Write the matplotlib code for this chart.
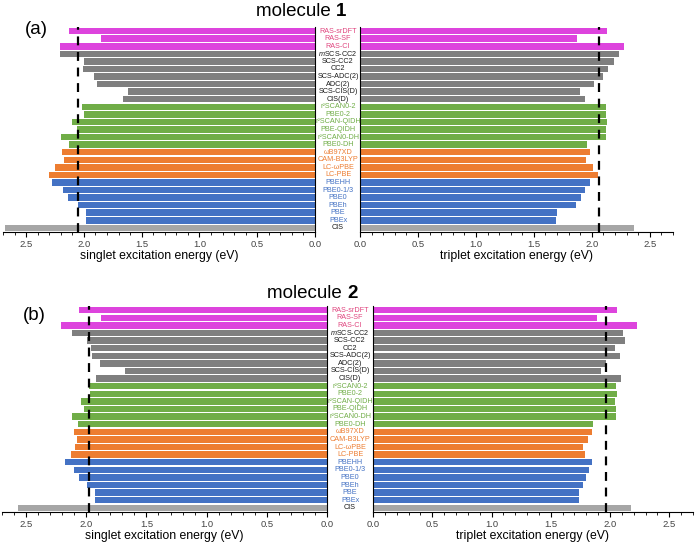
import numpy as np
import matplotlib.pyplot as plt
from matplotlib.ticker import MultipleLocator
from matplotlib.transforms import blended_transform_factory

plt.rcParams['font.family'] = ['Liberation Sans', 'DejaVu Sans']
plt.rcParams['mathtext.fontset'] = 'custom'
plt.rcParams['mathtext.it'] = 'Liberation Sans:italic'
plt.rcParams['mathtext.rm'] = 'Liberation Sans'

# Data (top to bottom)
methods = ['RAS-srDFT', 'RAS-SF', 'RAS-CI', r'$\it{m}$SCS-CC2', 'SCS-CC2', 'CC2',
           'SCS-ADC(2)', 'ADC(2)', 'SCS-CIS(D)', 'CIS(D)',
           'r²SCAN0-2', 'PBE0-2', 'r²SCAN-QIDH', 'PBE-QIDH', 'r²SCAN0-DH', 'PBE0-DH',
           'ωB97XD', 'CAM-B3LYP', 'LC-ωPBE', 'LC-PBE',
           'PBEHH', 'PBE0-1/3', 'PBE0', 'PBEh', 'PBE', 'PBEx', 'CIS']
groups = ['ras'] * 3 + ['wf'] * 7 + ['dh'] * 6 + ['rsh'] * 4 + ['hyb'] * 6 + ['cis']

singlet_1 = [2.13, 1.85, 2.21, 2.21, 2.00, 2.01, 1.91, 1.89, 1.62, 1.66,
             2.02, 2.00, 2.10, 2.06, 2.20, 2.13,
             2.19, 2.17, 2.25, 2.30,
             2.28, 2.18, 2.14, 2.05, 1.98, 1.98, 2.68]
triplet_1 = [2.13, 1.87, 2.28, 2.23, 2.19, 2.14, 2.10, 2.02, 1.90, 1.94,
             2.12, 2.12, 2.13, 2.12, 2.12, 1.96,
             1.98, 1.95, 2.01, 2.05,
             1.98, 1.94, 1.91, 1.86, 1.70, 1.69, 2.36]
singlet_2 = [2.06, 1.88, 2.21, 2.12, 1.99, 1.96, 1.95, 1.89, 1.68, 1.92,
             1.98, 1.97, 2.04, 2.02, 2.12, 2.07,
             2.10, 2.08, 2.09, 2.13,
             2.18, 2.10, 2.06, 1.99, 1.93, 1.93, 2.57]
triplet_2 = [2.06, 1.89, 2.23, 2.11, 2.13, 2.04, 2.08, 1.97, 1.92, 2.09,
             2.05, 2.06, 2.04, 2.05, 2.05, 1.86,
             1.85, 1.81, 1.77, 1.79,
             1.85, 1.82, 1.80, 1.77, 1.74, 1.74, 2.18]
ref_1 = (2.05, 2.06)
ref_2 = (1.98, 1.97)

bar_colors = {'ras': '#dd44dd', 'wf': '#7f7f7f', 'dh': '#70ad47',
              'rsh': '#ed7d31', 'hyb': '#4472c4', 'cis': '#a6a6a6'}
text_colors = {'ras': '#e0457f', 'wf': '#1a1a1a', 'dh': '#70ad47',
               'rsh': '#ed7d31', 'hyb': '#4472c4', 'cis': '#1a1a1a'}

W, H = 700, 546
fig = plt.figure(figsize=(7, 5.46), dpi=100)


def px_axes(x0, x1, y0, y1):
    return fig.add_axes([x0 / W, 1 - y1 / H, (x1 - x0) / W, (y1 - y0) / H])


def style(ax, side):
    ax.set_xlim(0, 2.7)
    ax.set_ylim(-0.55, len(methods) - 0.45)
    ax.set_yticks([])
    ax.patch.set_visible(False)
    ax.xaxis.set_major_locator(MultipleLocator(0.5))
    ax.xaxis.set_minor_locator(MultipleLocator(0.1))
    ax.tick_params(axis='x', which='major', length=3.5, width=0.8,
                   labelsize=6.8, labelcolor='#444444', pad=2)
    ax.tick_params(axis='x', which='minor', length=2, width=0.6)
    ax.spines['top'].set_visible(False)
    if side == 'left':
        ax.invert_xaxis()
        ax.spines['left'].set_visible(False)
    else:
        ax.spines['right'].set_visible(False)


def panel(box_l, box_r, sing, trip, refs, title_num, title_x, title_y,
          tag, tag_xy, label_x):
    y = np.arange(len(methods))[::-1]
    cols = [bar_colors[g] for g in groups]
    axl = px_axes(*box_l)
    axr = px_axes(*box_r)
    axl.barh(y, sing, height=0.86, color=cols)
    axr.barh(y, trip, height=0.86, color=cols)
    style(axl, 'left')
    style(axr, 'right')
    axl.axvline(refs[0], color='black', ls=(0, (4, 3)), lw=1.6)
    axr.axvline(refs[1], color='black', ls=(0, (4, 3)), lw=1.6)
    axl.set_xlabel('singlet excitation energy (eV)', fontsize=8.8, labelpad=1)
    axr.set_xlabel('triplet excitation energy (eV)', fontsize=8.8, labelpad=1)

    tr = blended_transform_factory(fig.transFigure, axl.transData)
    for yi, name, g in zip(y, methods, groups):
        fig.text(label_x / W, yi, name, transform=tr, ha='center', va='center',
                 fontsize=5.2, color=text_colors[g])

    fig.text(title_x / W, 1 - title_y / H, 'molecule ', ha='right', va='center',
             fontsize=13.5)
    fig.text(title_x / W, 1 - title_y / H, title_num, ha='left', va='center',
             fontsize=13.5, fontweight='bold')
    fig.text(tag_xy[0] / W, 1 - tag_xy[1] / H, tag, ha='left', va='center',
             fontsize=13.5)


panel((3, 315, 27, 232), (360, 673, 27, 232), singlet_1, triplet_1, ref_1,
      '1', 336, 12, '(a)', (25, 29), 338)
panel((2, 327, 306, 512), (373, 693, 306, 512), singlet_2, triplet_2, ref_2,
      '2', 347, 294, '(b)', (23, 315), 350)

plt.savefig('out.png', dpi=100)
